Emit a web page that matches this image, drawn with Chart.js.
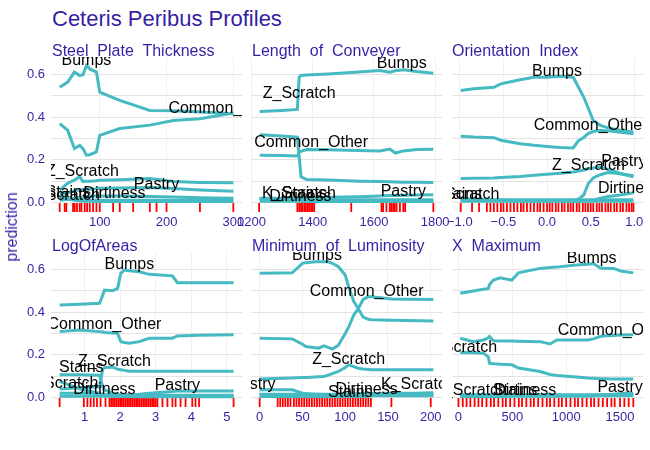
<!DOCTYPE html>
<html>
<head>
<meta charset="utf-8">
<script src="https://cdn.jsdelivr.net/npm/chart.js@4.4.1/dist/chart.umd.min.js"></script>
<style>
  html, body { margin: 0; padding: 0; background: #fff; }
  body { width: 650px; height: 450px; position: relative; overflow: hidden; font-family: "Liberation Sans", Arial, sans-serif; }
  canvas { position: absolute; }
  .title { position: absolute; left: 52px; top: 8px; font-size: 22px; line-height: 22px; color: #371ea3; white-space: nowrap; }
  .panel-title { position: absolute; font-size: 16px; line-height: 16px; color: #371ea3; white-space: pre; }
  .y-title { position: absolute; left: 12px; top: 227px; font-size: 16px; line-height: 16px; color: #371ea3; white-space: nowrap; transform: translate(-50%, -50%) rotate(-90deg); }
</style>
</head>
<body>
<div class="title">Ceteris Peribus Profiles</div>
<canvas id="p-thickness" width="261" height="196" style="left:6px;top:41px"></canvas>
<canvas id="p-conveyer" width="261" height="196" style="left:206px;top:41px"></canvas>
<canvas id="p-orientation" width="261" height="196" style="left:407px;top:41px"></canvas>
<canvas id="p-areas" width="261" height="196" style="left:6px;top:236px"></canvas>
<canvas id="p-luminosity" width="261" height="196" style="left:206px;top:236px"></canvas>
<canvas id="p-xmax" width="261" height="196" style="left:407px;top:236px"></canvas>
<div class="panel-title" style="left:52px;top:43px">Steel  Plate  Thickness</div>
<div class="panel-title" style="left:252px;top:43px">Length  of  Conveyer</div>
<div class="panel-title" style="left:452px;top:43px">Orientation  Index</div>
<div class="panel-title" style="left:52px;top:238px">LogOfAreas</div>
<div class="panel-title" style="left:252px;top:238px">Minimum  of  Luminosity</div>
<div class="panel-title" style="left:452px;top:238px">X  Maximum</div>
<div class="y-title">prediction</div>
<script>
const { Chart } = window;
Chart.defaults.font.family = '"Liberation Sans", Arial, sans-serif';

const classes = ["Bumps", "Common_Other", "Z_Scratch", "Pastry", "Dirtiness", "K_Scratch", "Stains"];
const predictionTicks = [0, 0.1, 0.2, 0.3, 0.4, 0.5, 0.6];

// Steel_Plate_Thickness
const thicknessX = [40, 52, 62, 70, 75, 80, 85, 95, 100, 130, 175, 210, 250, 300];
const thicknessProfiles = [
  [0.541, 0.565, 0.612, 0.596, 0.600, 0.643, 0.627, 0.612, 0.518, 0.479, 0.432, 0.430, 0.425, 0.417],
  [0.370, 0.339, 0.253, 0.268, 0.253, 0.222, 0.224, 0.237, 0.315, 0.347, 0.363, 0.385, 0.393, 0.420],
  [0.058, 0.090, 0.105, 0.120, 0.098, 0.100, 0.100, 0.102, 0.104, 0.106, 0.112, 0.098, 0.094, 0.092],
  [0.040, 0.045, 0.055, 0.062, 0.060, 0.062, 0.062, 0.064, 0.066, 0.068, 0.070, 0.065, 0.058, 0.052],
  [0.010, 0.015, 0.020, 0.025, 0.020, 0.025, 0.030, 0.030, 0.030, 0.030, 0.028, 0.025, 0.022, 0.020],
  [0.030, 0.020, 0.010, 0.008, 0.006, 0.005, 0.005, 0.004, 0.004, 0.004, 0.004, 0.004, 0.004, 0.004],
  [0.020, 0.015, 0.012, 0.010, 0.010, 0.010, 0.010, 0.010, 0.010, 0.010, 0.010, 0.010, 0.010, 0.010]
];
const thicknessLabelX = [80, 288, 74, 185, 122, 45, 52];
const thicknessLabelY = [0.668, 0.440, 0.143, 0.084, 0.042, 0.030, 0.045];
const thicknessTicks = [100, 200, 300];
const thicknessRug = [40, 47.5, 50, 60, 62.5, 66, 70, 72.5, 77.5, 81, 85, 90, 95, 100, 120, 130, 150, 175, 185, 200, 250, 300];

// Length_of_Conveyer
const conveyerX = [1227, 1300, 1350, 1356, 1362, 1380, 1450, 1550, 1619, 1652, 1670, 1696, 1740, 1794];
const conveyerProfiles = [
  [0.427, 0.432, 0.437, 0.588, 0.596, 0.598, 0.603, 0.612, 0.620, 0.612, 0.618, 0.623, 0.615, 0.607],
  [0.222, 0.220, 0.218, 0.237, 0.240, 0.248, 0.247, 0.244, 0.242, 0.251, 0.232, 0.242, 0.248, 0.250],
  [0.318, 0.312, 0.307, 0.214, 0.120, 0.108, 0.105, 0.100, 0.098, 0.097, 0.096, 0.095, 0.095, 0.094],
  [0.020, 0.020, 0.020, 0.022, 0.022, 0.022, 0.024, 0.027, 0.030, 0.032, 0.033, 0.034, 0.035, 0.036],
  [0.006, 0.006, 0.006, 0.004, 0.004, 0.004, 0.004, 0.004, 0.004, 0.004, 0.004, 0.004, 0.004, 0.004],
  [0.012, 0.012, 0.012, 0.008, 0.008, 0.008, 0.008, 0.008, 0.008, 0.008, 0.008, 0.008, 0.008, 0.008],
  [0.018, 0.018, 0.016, 0.012, 0.012, 0.012, 0.012, 0.012, 0.012, 0.012, 0.012, 0.012, 0.012, 0.012]
];
const conveyerLabelX = [1691, 1395, 1356, 1696, 1360, 1355, 1372];
const conveyerLabelY = [0.654, 0.279, 0.510, 0.050, 0.026, 0.042, 0.042];
const conveyerTicks = [1200, 1400, 1600, 1800];
const conveyerRug = [1225, 1350, 1356, 1362, 1367, 1373, 1378, 1384, 1389, 1395, 1400, 1405, 1526, 1625, 1630, 1641, 1652, 1657, 1663, 1668, 1674, 1685, 1696, 1702, 1794];

// Orientation_Index
const orientationX = [-0.99, -0.84, -0.61, -0.53, -0.31, -0.15, 0, 0.15, 0.3, 0.36, 0.42, 0.475, 0.53, 0.61, 0.7, 0.84, 0.99];
const orientationProfiles = [
  [0.526, 0.534, 0.541, 0.557, 0.576, 0.588, 0.588, 0.593, 0.588, 0.541, 0.495, 0.440, 0.385, 0.362, 0.350, 0.339, 0.331],
  [0.311, 0.307, 0.304, 0.292, 0.276, 0.268, 0.263, 0.258, 0.256, 0.290, 0.305, 0.325, 0.333, 0.339, 0.336, 0.330, 0.323],
  [0.112, 0.113, 0.115, 0.117, 0.122, 0.128, 0.132, 0.137, 0.143, 0.147, 0.152, 0.158, 0.162, 0.167, 0.155, 0.136, 0.120],
  [0.008, 0.008, 0.008, 0.008, 0.008, 0.008, 0.008, 0.008, 0.009, 0.015, 0.035, 0.090, 0.115, 0.130, 0.140, 0.135, 0.125],
  [0.005, 0.005, 0.005, 0.005, 0.005, 0.005, 0.005, 0.005, 0.005, 0.006, 0.007, 0.008, 0.010, 0.020, 0.028, 0.035, 0.045],
  [0.020, 0.015, 0.010, 0.010, 0.008, 0.008, 0.007, 0.007, 0.006, 0.006, 0.006, 0.005, 0.005, 0.005, 0.005, 0.005, 0.005],
  [0.012, 0.012, 0.012, 0.012, 0.012, 0.012, 0.012, 0.012, 0.012, 0.012, 0.012, 0.012, 0.012, 0.012, 0.012, 0.012, 0.012]
];
const orientationLabelX = [0.114, 0.5, 0.475, 0.88, 0.94, -0.97, -1.0];
const orientationLabelY = [0.616, 0.359, 0.175, 0.190, 0.066, 0.035, 0.035];
const orientationTicks = [-1, -0.5, 0, 0.5, 1];
const orientationRug = [-0.99, -0.86, -0.78, -0.69, -0.65, -0.61, -0.57, -0.53, -0.5, -0.46, -0.42, -0.38, -0.34, -0.3, -0.27, -0.23,
  -0.19, -0.15, -0.11, -0.08, -0.04, 0, 0.03, 0.06, 0.1, 0.13, 0.17, 0.2, 0.24, 0.27, 0.3, 0.34, 0.37, 0.41, 0.44, 0.47, 0.5,
  0.53, 0.57, 0.6, 0.63, 0.67, 0.7, 0.73, 0.77, 0.8, 0.84, 0.87, 0.91, 0.94, 0.97, 0.99];

// LogOfAreas
const areasX = [0.3, 0.86, 1.42, 1.51, 1.56, 1.79, 1.93, 2.02, 2.12, 2.26, 2.54, 2.82, 3.47, 3.61, 4.2, 5.19];
const areasProfiles = [
  [0.434, 0.438, 0.442, 0.480, 0.504, 0.501, 0.512, 0.583, 0.598, 0.595, 0.590, 0.578, 0.571, 0.539, 0.539, 0.539],
  [0.309, 0.317, 0.309, 0.307, 0.305, 0.303, 0.300, 0.262, 0.258, 0.255, 0.262, 0.278, 0.278, 0.289, 0.292, 0.294],
  [0.040, 0.045, 0.050, 0.130, 0.140, 0.142, 0.133, 0.130, 0.127, 0.123, 0.123, 0.123, 0.123, 0.123, 0.123, 0.123],
  [0.005, 0.005, 0.005, 0.005, 0.005, 0.006, 0.007, 0.008, 0.010, 0.012, 0.015, 0.020, 0.028, 0.030, 0.030, 0.030],
  [0.020, 0.020, 0.018, 0.015, 0.013, 0.012, 0.012, 0.010, 0.010, 0.010, 0.008, 0.008, 0.007, 0.007, 0.006, 0.006],
  [0.075, 0.040, 0.020, 0.012, 0.010, 0.006, 0.005, 0.004, 0.004, 0.004, 0.003, 0.003, 0.003, 0.003, 0.003, 0.003],
  [0.106, 0.106, 0.104, 0.052, 0.035, 0.020, 0.015, 0.012, 0.012, 0.010, 0.010, 0.010, 0.010, 0.010, 0.010, 0.010]
];
const areasLabelX = [2.26, 1.56, 1.84, 3.61, 1.56, 0.35, 0.91];
const areasLabelY = [0.625, 0.344, 0.169, 0.055, 0.036, 0.067, 0.138];
const areasTicks = [1, 2, 3, 4, 5];
const areasRug = [0.3, 0.98, 1.08, 1.17, 1.26, 1.35, 1.45, 1.59, 1.7, 1.75, 1.8, 1.85, 1.9, 1.95, 2.0, 2.05, 2.1, 2.15, 2.2, 2.25,
  2.3, 2.35, 2.4, 2.45, 2.5, 2.55, 2.6, 2.65, 2.7, 2.75, 2.8, 2.85, 2.9, 2.95, 3.0, 3.05, 3.19, 3.33, 3.47, 3.56, 3.7, 3.84,
  4.03, 4.12, 4.22, 5.19];

// Minimum_of_Luminosity
const luminosityX = [0, 38, 50, 54, 65, 69, 75, 80, 85, 92, 100, 104, 110, 115, 121, 127, 131, 154, 203];
const luminosityProfiles = [
  [0.583, 0.585, 0.630, 0.633, 0.637, 0.637, 0.637, 0.637, 0.630, 0.614, 0.575, 0.520, 0.450, 0.419, 0.377, 0.367, 0.365, 0.362, 0.359],
  [0.278, 0.275, 0.250, 0.239, 0.233, 0.231, 0.242, 0.235, 0.227, 0.245, 0.300, 0.330, 0.387, 0.415, 0.460, 0.473, 0.473, 0.462, 0.460],
  [0.086, 0.091, 0.093, 0.094, 0.096, 0.097, 0.098, 0.105, 0.112, 0.122, 0.140, 0.153, 0.145, 0.137, 0.133, 0.131, 0.130, 0.130, 0.130],
  [0.036, 0.036, 0.020, 0.018, 0.015, 0.015, 0.014, 0.014, 0.013, 0.012, 0.012, 0.012, 0.011, 0.011, 0.010, 0.010, 0.010, 0.010, 0.010],
  [0.015, 0.015, 0.015, 0.015, 0.015, 0.015, 0.015, 0.015, 0.015, 0.015, 0.016, 0.016, 0.017, 0.017, 0.018, 0.018, 0.018, 0.019, 0.020],
  [0.004, 0.004, 0.004, 0.004, 0.004, 0.004, 0.004, 0.004, 0.004, 0.004, 0.004, 0.004, 0.004, 0.004, 0.004, 0.006, 0.008, 0.014, 0.022],
  [0.012, 0.012, 0.010, 0.010, 0.008, 0.008, 0.008, 0.008, 0.008, 0.008, 0.008, 0.008, 0.008, 0.008, 0.008, 0.008, 0.008, 0.008, 0.008]
];
const luminosityLabelX = [67, 125, 104, -8, 125, 185, 106];
const luminosityLabelY = [0.668, 0.497, 0.180, 0.060, 0.036, 0.060, 0.024];
const luminosityTicks = [0, 50, 100, 150, 200];
const luminosityRug = [0, 21, 24, 27, 30, 33, 36, 40, 43, 46, 49, 52, 55, 58, 61, 64, 67, 70, 73, 76, 79, 82, 85, 88, 91, 94,
  97, 100, 103, 106, 109, 112, 115, 118, 121, 124, 127, 130, 154, 200];

// X_Maximum
const xmaxX = [16, 139, 232, 278, 288, 325, 387, 495, 557, 758, 850, 913, 1067, 1200, 1252, 1314, 1345, 1438, 1516, 1623];
const xmaxProfiles = [
  [0.489, 0.500, 0.508, 0.512, 0.530, 0.551, 0.562, 0.551, 0.585, 0.606, 0.610, 0.612, 0.621, 0.625, 0.629, 0.609, 0.607, 0.606, 0.593, 0.585],
  [0.278, 0.262, 0.270, 0.280, 0.286, 0.266, 0.265, 0.265, 0.264, 0.262, 0.251, 0.270, 0.270, 0.270, 0.275, 0.286, 0.289, 0.291, 0.293, 0.294],
  [0.211, 0.210, 0.208, 0.190, 0.161, 0.158, 0.156, 0.153, 0.138, 0.122, 0.108, 0.103, 0.097, 0.091, 0.090, 0.088, 0.088, 0.087, 0.086, 0.086],
  [0.004, 0.004, 0.004, 0.004, 0.004, 0.004, 0.004, 0.005, 0.005, 0.005, 0.005, 0.005, 0.006, 0.006, 0.007, 0.010, 0.011, 0.015, 0.018, 0.020],
  [0.012, 0.012, 0.012, 0.012, 0.012, 0.012, 0.012, 0.012, 0.012, 0.012, 0.012, 0.012, 0.012, 0.012, 0.012, 0.012, 0.012, 0.012, 0.012, 0.012],
  [0.010, 0.010, 0.010, 0.010, 0.010, 0.010, 0.010, 0.010, 0.010, 0.010, 0.010, 0.010, 0.010, 0.010, 0.010, 0.010, 0.010, 0.010, 0.010, 0.010],
  [0.008, 0.008, 0.008, 0.008, 0.008, 0.008, 0.008, 0.008, 0.008, 0.008, 0.008, 0.008, 0.008, 0.008, 0.008, 0.008, 0.008, 0.008, 0.008, 0.008]
];
const xmaxLabelX = [1237, 1450, 20, 1500, 620, 108, 525];
const xmaxLabelY = [0.653, 0.316, 0.236, 0.044, 0.033, 0.033, 0.033];
const xmaxTicks = [0, 500, 1000, 1500];
const xmaxRug = [0, 40, 75, 110, 150, 185, 220, 260, 300, 330, 370, 410, 440, 480, 520, 560, 590, 630, 670, 700, 740, 780, 820,
  850, 890, 930, 960, 1000, 1040, 1080, 1110, 1150, 1190, 1230, 1260, 1300, 1340, 1380, 1420, 1450, 1500, 1540, 1580, 1623];

const yMin = -0.045;
const yMax = 0.683;
const tickColor = "#371ea3";
const lineColor = "#46bac2";

const profileLabels = {
  id: "profileLabels",
  afterDatasetsDraw(chart, args, opts) {
    const { ctx, chartArea, scales } = chart;
    ctx.save();
    ctx.beginPath();
    ctx.rect(chartArea.left, chartArea.top, chartArea.right - chartArea.left, chartArea.bottom - chartArea.top);
    ctx.clip();
    ctx.font = '16px "Liberation Sans", Arial, sans-serif';
    ctx.fillStyle = "#000000";
    ctx.textAlign = "center";
    ctx.textBaseline = "middle";
    classes.forEach((name, i) => {
      ctx.fillText(name, scales.x.getPixelForValue(opts.x[i]), scales.y.getPixelForValue(opts.y[i]));
    });
    ctx.restore();
  }
};

function drawPanel(id, xs, profiles, labelX, labelY, rug, xMin, xMax, xTicks, xFormat, showY) {
  const datasets = profiles.map((values, i) => ({
    label: classes[i],
    data: xs.map((x, j) => ({ x, y: values[j] })),
    borderColor: lineColor,
    borderWidth: 3,
    pointRadius: 0,
    tension: 0,
    fill: false
  }));
  datasets.push({
    type: "scatter",
    label: "rug",
    data: rug.map((x) => ({ x, y: yMin + 0.0211 })),
    pointStyle: "line",
    pointRotation: 90,
    pointRadius: 4.5,
    pointBorderColor: "#ff0000",
    pointBorderWidth: 1.8,
    clip: false
  });

  new Chart(document.getElementById(id), {
    type: "line",
    data: { datasets },
    plugins: [profileLabels],
    options: {
      responsive: false,
      animation: false,
      events: [],
      layout: { padding: { top: 16, right: 25, bottom: 0, left: 0 } },
      plugins: {
        legend: { display: false },
        tooltip: { enabled: false },
        profileLabels: { x: labelX, y: labelY }
      },
      scales: {
        x: {
          type: "linear",
          min: xMin,
          max: xMax,
          afterBuildTicks: (scale) => { scale.ticks = xTicks.map((value) => ({ value })); },
          afterFit: (scale) => { scale.height = 25; },
          border: { display: false },
          grid: { color: "#f1f1f1", drawTicks: false },
          ticks: {
            autoSkip: false,
            maxRotation: 0,
            padding: 3,
            color: tickColor,
            font: { size: 13 },
            callback: xFormat
          }
        },
        y: {
          min: yMin,
          max: yMax,
          afterBuildTicks: (scale) => { scale.ticks = predictionTicks.map((value) => ({ value })); },
          afterFit: (scale) => { scale.width = 45; },
          border: { display: false },
          grid: { color: "#e3e3e3", drawTicks: false },
          ticks: {
            display: showY,
            padding: 6,
            color: tickColor,
            font: { size: 13 },
            callback: (value) => (Math.round(value * 10) % 2 === 0 ? value.toFixed(1) : "")
          }
        }
      }
    }
  });
}

const plain = (value) => String(Math.round(value));
const decimal = (value) => value.toFixed(1).replace("-", "\u2212");

drawPanel("p-thickness", thicknessX, thicknessProfiles, thicknessLabelX, thicknessLabelY, thicknessRug, 27, 313, thicknessTicks, plain, true);
drawPanel("p-conveyer", conveyerX, conveyerProfiles, conveyerLabelX, conveyerLabelY, conveyerRug, 1198.6, 1822.4, conveyerTicks, plain, false);
drawPanel("p-orientation", orientationX, orientationProfiles, orientationLabelX, orientationLabelY, orientationRug, -1.09, 1.1, orientationTicks, decimal, false);
drawPanel("p-areas", areasX, areasProfiles, areasLabelX, areasLabelY, areasRug, 0.057, 5.427, areasTicks, plain, true);
drawPanel("p-luminosity", luminosityX, luminosityProfiles, luminosityLabelX, luminosityLabelY, luminosityRug, -10.15, 213.15, luminosityTicks, plain, false);
drawPanel("p-xmax", xmaxX, xmaxProfiles, xmaxLabelX, xmaxLabelY, xmaxRug, -60, 1713, xmaxTicks, plain, false);
</script>
</body>
</html>
